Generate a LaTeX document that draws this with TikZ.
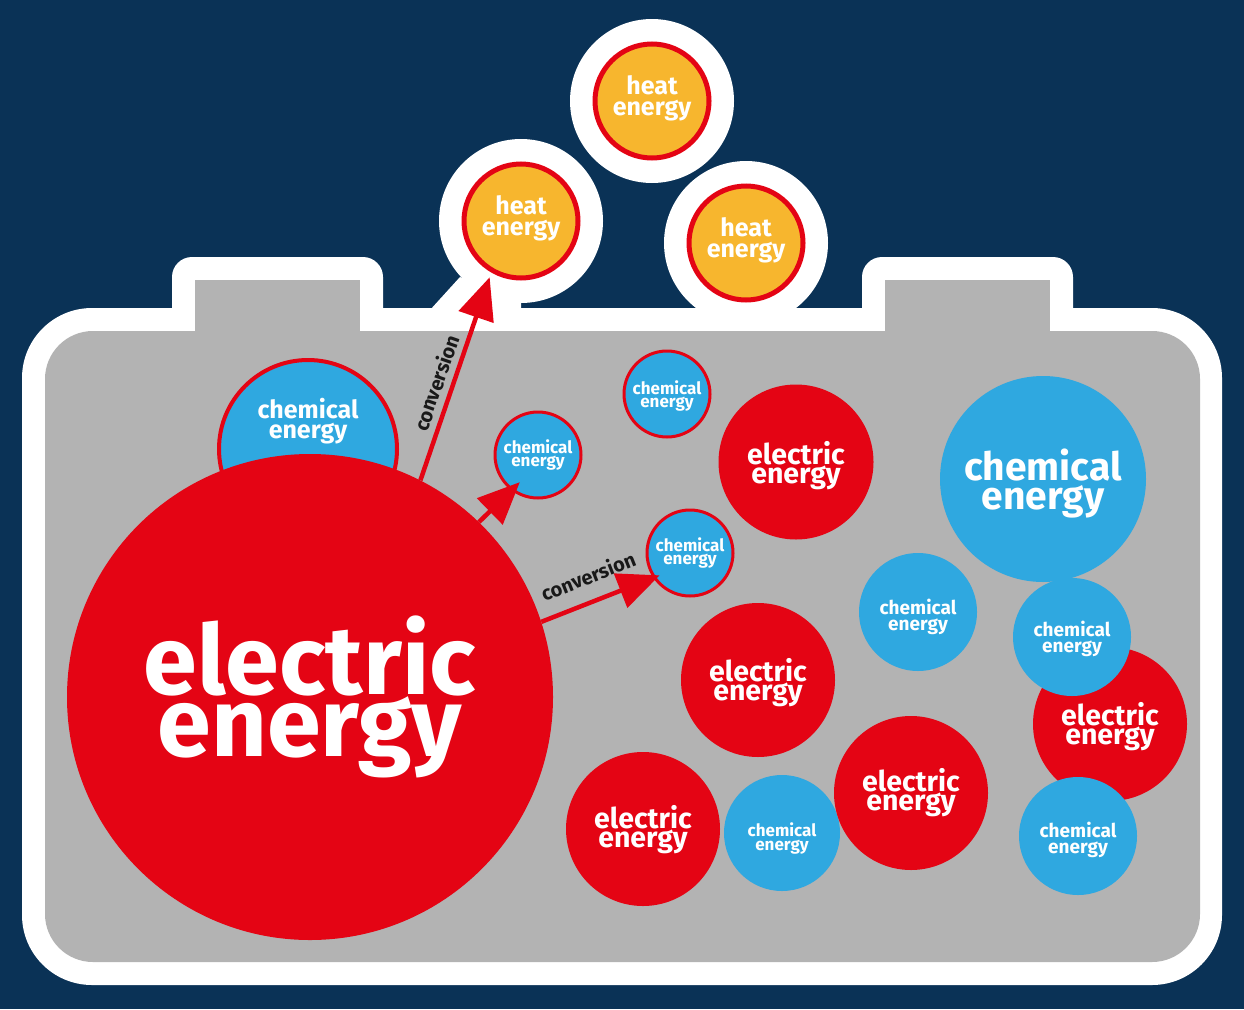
\documentclass[tikz,border=0pt]{standalone}
\usepackage{fontspec}
\setmainfont{Fira Sans}
\usetikzlibrary{arrows.meta}
\definecolor{navy}{RGB}{10,50,86}
\definecolor{ered}{RGB}{228,4,20}
\definecolor{eblue}{RGB}{47,168,224}
\definecolor{eorange}{RGB}{247,182,46}
\definecolor{egray}{RGB}{179,179,179}
\newcommand\fs[2]{\fontsize{#1pt}{#2pt}\selectfont\bfseries}
\begin{document}
\begin{tikzpicture}[x=1pt,y=-1pt,
  ball/.style={circle, inner sep=0pt, minimum size=#1, text=white, align=center},
  elec/.style={ball=#1, fill=ered},
  chem/.style={ball=#1, fill=eblue},
  chemr/.style={ball=#1, fill=eblue, draw=ered, line width=3pt},
  heat/.style={ball=114, fill=eorange, draw=ered, line width=5pt},
  halo/.style={fill=white},
  txt/.style={text=white, align=center, inner sep=0pt},
  etxt/.style={txt, font=\fs{28.5}{18}},
  ctxt/.style={txt, font=\fs{19}{16}},
  arr/.style={draw=ered, line width=4.5pt, -{Triangle[length=42pt,width=36pt]}},
  conv/.style={text=black!90, inner sep=0pt, font=\fs{20}{20}}
]
\useasboundingbox (0,0) rectangle (1244,1009);
\fill[navy] (0,0) rectangle (1244,1009);
% white outline
\fill[halo] (652,101) circle (82);
\fill[halo] (521,221) circle (82);
\fill[halo] (746,243) circle (82);
\fill[halo] (430,310) -- (460,277) -- (521,300) -- (521,310) -- cycle;
\fill[halo, rounded corners=70] (22,308) rectangle (1222,985);
\fill[halo, rounded corners=20] (172,257) rectangle (383,330);
\fill[halo, rounded corners=20] (862,257) rectangle (1073,330);
% gray body
\fill[egray, rounded corners=48] (45,331) rectangle (1200,962);
\fill[egray] (195,280) rectangle (360,340);
\fill[egray] (885,280) rectangle (1050,340);
% heat circles
\node[heat] (heatT) at (652,101) {};
\node[heat] (heatL) at (521,221) {};
\node[heat] (heatR) at (746,243) {};
\node[txt, font=\fs{25}{21}] (tHT) at (652,98) {heat\\energy};
\node[txt, font=\fs{25}{21}] (tHL) at (521,218) {heat\\energy};
\node[txt, font=\fs{25}{21}] (tHR) at (746,240) {heat\\energy};
% chemical behind big circle
\node[chemr=178, line width=4pt] (chemTL) at (308,449) {};
\node[txt, font=\fs{25}{20}] (tTL) at (308,421) {chemical\\energy};
% big electric
\node[elec=486, font=\fs{97}{56}] (big) at (310,697) {electric\\energy};
% small bordered chemical circles
\node[chemr=86, font=\fs{17}{13}] (chemA) at (538,455) {chemical\\energy};
\node[chemr=86] (chemB) at (667,394) {};
\node[txt, font=\fs{17}{13}] (tB) at (667,396) {chemical\\energy};
\node[chemr=86, font=\fs{17}{13}] (chemC) at (690,553) {chemical\\energy};
% other circles
\node[elec=155] (e1) at (796,462) {};
\node[etxt] (te1) at (796,465.5) {electric\\energy};
\node[chem=206] (c1) at (1043,479) {};
\node[txt, font=\fs{39}{29}] (tc1) at (1043,483.5) {chemical\\energy};
\node[chem=118] (c2) at (918,612) {};
\node[ctxt] (tc2) at (918,617) {chemical\\energy};
\node[elec=154] (e2) at (1110,724) {};
\node[etxt] (te2) at (1110,726.5) {electric\\energy};
\node[chem=118] (c3) at (1072,637) {};
\node[ctxt] (tc3) at (1072,638.5) {chemical\\energy};
\node[chem=118] (c4) at (1078,836) {};
\node[ctxt] (tc4) at (1078,840) {chemical\\energy};
\node[elec=154] (e3) at (758,680) {};
\node[etxt] (te3) at (758,683) {electric\\energy};
\node[chem=116] (c5) at (782,833) {};
\node[txt, font=\fs{17}{14}] (tc5) at (782,838) {chemical\\energy};
\node[elec=154, font=\fs{28.5}{18}] (e4) at (911,793) {electric\\energy};
\node[elec=154] (e5) at (643,829) {};
\node[etxt] (te5) at (643,830) {electric\\energy};
% arrows
\draw[arr, shorten >=5pt] (big.63.5) -- (heatL.240.8);
\draw[arr, shorten >=-12pt] (big.46.3) -- (chemA.233.8);
\draw[arr, shorten >=-7pt] (big.18.1) -- (chemC.214);
\node[conv, rotate=70.8] (lab1) at (436,383) {conversion};
\node[conv, rotate=21.7] (lab2) at (588,576) {conversion};
\end{tikzpicture}
\end{document}
